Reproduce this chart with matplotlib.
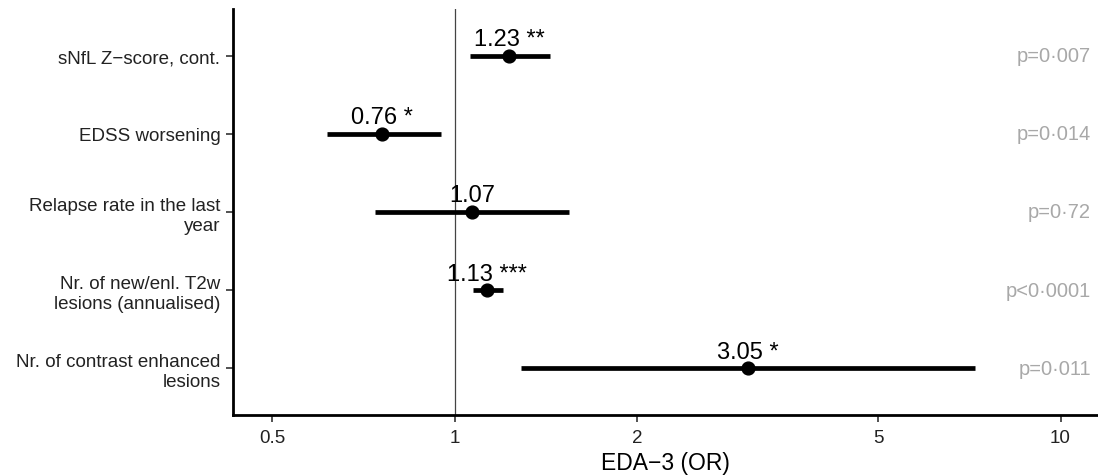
import matplotlib
matplotlib.use("Agg")
import matplotlib.pyplot as plt
import matplotlib.transforms as mtransforms
from matplotlib.ticker import FixedLocator, NullLocator

plt.rcParams['font.family'] = ['Liberation Sans', 'DejaVu Sans']

# ---- data ----
categories = [
    "sNfL Z\u2212score, cont.",
    "EDSS worsening",
    "Relapse rate in the last\nyear",
    "Nr. of new/enl. T2w\nlesions (annualised)",
    "Nr. of contrast enhanced\nlesions",
]
odds_ratio = [1.23, 0.76, 1.07, 1.13, 3.05]
ci_low = [1.06, 0.617, 0.74, 1.072, 1.287]
ci_high = [1.437, 0.949, 1.547, 1.201, 7.22]
or_labels = ["1.23 **", "0.76 *", "1.07", "1.13 ***", "3.05 *"]
p_labels = ["p=0\u00b7007", "p=0\u00b7014", "p=0\u00b772", "p<0\u00b70001", "p=0\u00b7011"]
x_ticks = [0.5, 1, 2, 5, 10]
x_tick_labels = ["0.5", "1", "2", "5", "10"]
x_title = "EDA\u22123 (OR)"

fig = plt.figure(figsize=(10.98, 4.77), dpi=100)
ax = fig.add_axes([233 / 1098, 61 / 477, 1 - 233 / 1098, 406 / 477])

n = len(categories)
ypos = list(range(n, 0, -1))

ax.axvline(1, color='#444444', lw=0.9, zorder=1)

for y, o, lo, hi, lab in zip(ypos, odds_ratio, ci_low, ci_high, or_labels):
    ax.plot([lo, hi], [y, y], color='black', lw=3.4, solid_capstyle='butt', zorder=2)
    ax.plot([o], [y], 'o', color='black', markersize=9.2, zorder=3)
    ax.annotate(lab, xy=(o, y), xytext=(0, 7.6), textcoords='offset points',
                ha='center', va='baseline', fontsize=17, color='black')

trans = mtransforms.blended_transform_factory(ax.transAxes, ax.transData)
for y, p in zip(ypos, p_labels):
    ax.text(0.992, y, p, transform=trans, ha='right', va='center',
            fontsize=14.5, color='#A8A8A8')

ax.set_xscale('log')
ax.set_xlim(0.4309, 11.53)
ax.set_ylim(0.4, n + 0.6)
ax.xaxis.set_major_locator(FixedLocator(x_ticks))
ax.xaxis.set_minor_locator(NullLocator())
ax.set_xticklabels(x_tick_labels)
ax.set_yticks(ypos)
ax.set_yticklabels(categories, linespacing=1.25)

for s in ['top', 'right']:
    ax.spines[s].set_visible(False)
for s in ['left', 'bottom']:
    ax.spines[s].set_linewidth(2.0)
    ax.spines[s].set_color('black')

ax.tick_params(axis='both', which='major', length=5, width=1.2, color='#333333',
               labelsize=13.5, labelcolor='#222222', pad=4)
ax.tick_params(axis='x', pad=5)

ax.set_xlabel(x_title, fontsize=16.5, color='black', labelpad=4)

fig.savefig("out.png", dpi=100)
